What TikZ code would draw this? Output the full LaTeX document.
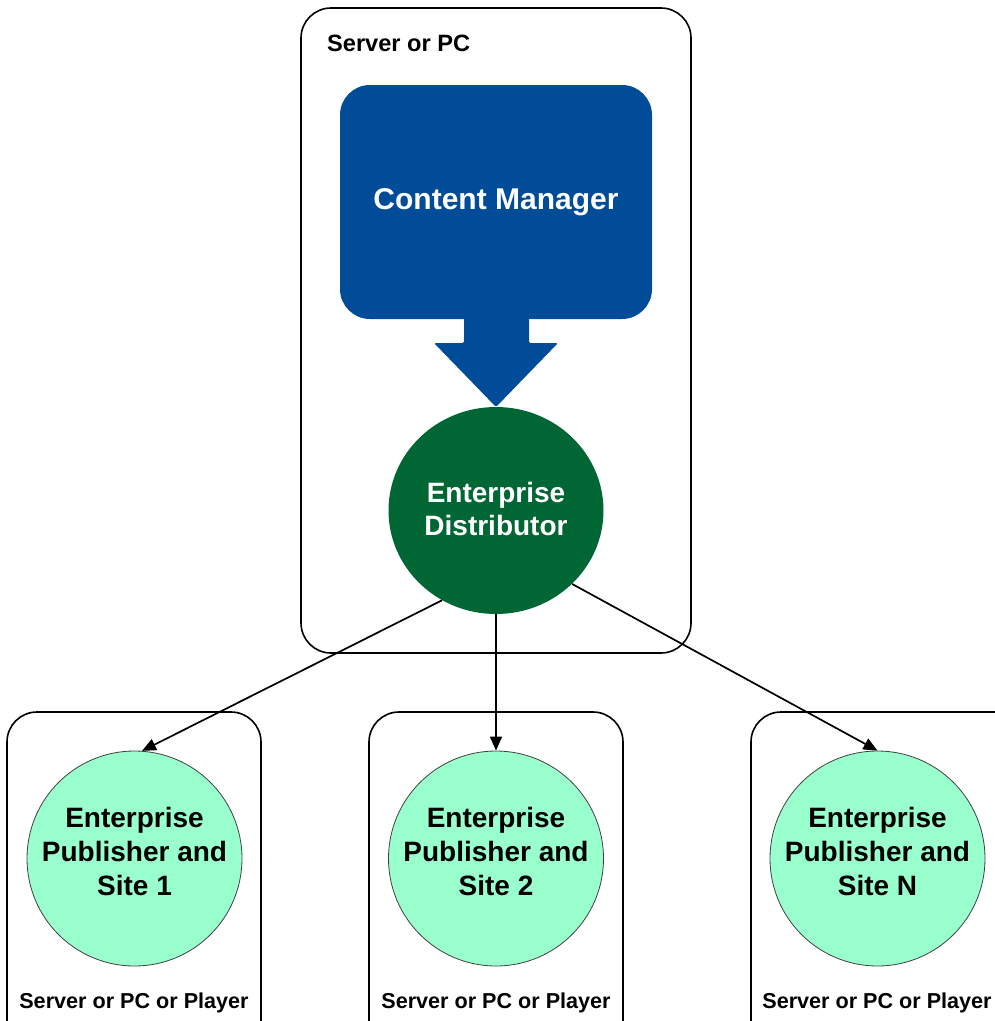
\documentclass[tikz,border=0pt]{standalone}
\usepackage{fontspec}
\setmainfont{Liberation Sans}
\usetikzlibrary{arrows.meta,shapes.geometric}
\definecolor{cmblue}{RGB}{0,76,153}
\definecolor{distgreen}{RGB}{0,102,51}
\definecolor{sitegreen}{RGB}{153,255,204}
\begin{document}
\begin{tikzpicture}[x=1pt,y=-1pt,
  hostbox/.style={draw=black, line width=1.6pt, rounded corners=30pt},
  hostlabel/.style={inner sep=0pt, text=black, font=\bfseries\fontsize{21.6}{26}\selectfont},
  site/.style={circle, draw=black!75, line width=0.8pt, fill=sitegreen,
    minimum size=215pt, inner sep=0pt},
  sitetext/.style={align=center, inner sep=0pt, yshift=7pt,
    font=\bfseries\fontsize{28}{34}\selectfont},
  link/.style={line width=1.7pt, -{Triangle[length=14pt,width=12pt]}}]
\useasboundingbox (0,0) rectangle (995,1021);

% host machines
\draw[hostbox] (301,8) rectangle (691,653);
\draw[hostbox] (7,712) rectangle (261,1060);
\draw[hostbox] (369,712) rectangle (623,1060);
\draw[hostbox] (751,712) rectangle (1030,1060);

\node[anchor=west, inner sep=0pt, font=\bfseries\fontsize{23.6}{28}\selectfont] (toplabel) at (327,43) {Server or PC};
\node[hostlabel] (lab1) at (134,1003) {Server or PC or Player};
\node[hostlabel] (lab2) at (496,1003) {Server or PC or Player};
\node[hostlabel] (labN) at (877,1003) {Server or PC or Player};

% content manager and its feed arrow
\node[fill=cmblue, rounded corners=30pt, minimum width=312pt, minimum height=234pt,
  inner sep=0pt, text=white, font=\bfseries\fontsize{30}{36}\selectfont] (cm) at (496,202) {Content Manager};
\fill[cmblue, rounded corners=1.5pt] (464,318) -- (464,343) -- (434,343) -- (496,407)
  -- (558,343) -- (529,343) -- (529,318) -- cycle;

% distributor
\node[ellipse, fill=distgreen, minimum width=215pt, minimum height=207pt, inner sep=0pt,
  label={[align=center, inner sep=0pt, yshift=2pt, text=white,
    font=\bfseries\fontsize{28}{33}\selectfont]center:Enterprise\\Distributor}] (dist) at (496,510.5) {};

% publisher sites
\node[site, label={[sitetext]center:Enterprise\\Publisher and\\Site 1}] (site1) at (134.5,858.5) {};
\node[site, label={[sitetext]center:Enterprise\\Publisher and\\Site 2}] (site2) at (496,858.5) {};
\node[site, label={[sitetext]center:Enterprise\\Publisher and\\Site N}] (siteN) at (877.5,858.5) {};

% distribution links
\draw[link] (dist.239) -- (site1.86);
\draw[link] (dist.south) -- (site2.north);
\draw[link] (dist.316) -- (siteN.north);
\end{tikzpicture}
\end{document}
